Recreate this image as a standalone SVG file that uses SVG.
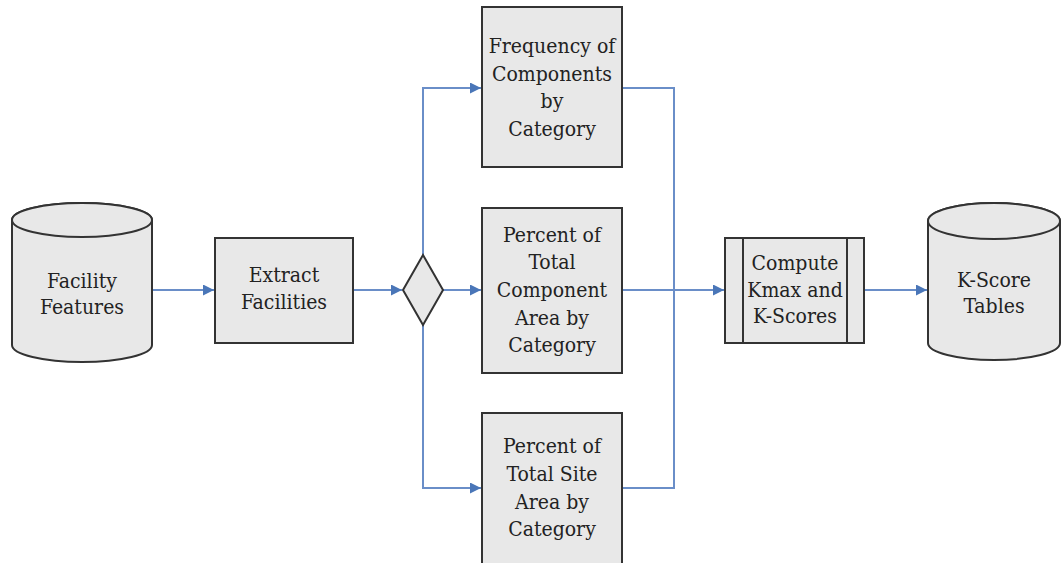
<svg xmlns="http://www.w3.org/2000/svg" width="1062" height="563" viewBox="0 0 1062 563">
<defs>
<style>
.n{fill:#e8e8e8;stroke:#333;stroke-width:2}
.l{fill:none;stroke:#6a8ec8;stroke-width:2}
.t{font-family:"DejaVu Serif Condensed","DejaVu Serif",serif;font-stretch:condensed;font-size:21px;fill:#222;text-anchor:middle}
</style>
<marker id="a" viewBox="0 0 10 10" refX="10" refY="5" markerWidth="5.5" markerHeight="5.5" orient="auto" markerUnits="strokeWidth">
<path d="M0,0 L10,5 L0,10 z" fill="#4a76b8"/>
</marker>
</defs>
<rect width="1062" height="563" fill="#fff"/>
<g id="connectors">
<path class="l" d="M152,290 H214" marker-end="url(#a)"/>
<path class="l" d="M353,290 H402" marker-end="url(#a)"/>
<path class="l" d="M443,290 H481" marker-end="url(#a)"/>
<path class="l" d="M423,255 V88 H481" marker-end="url(#a)"/>
<path class="l" d="M423,325 V488 H481" marker-end="url(#a)"/>
<path class="l" d="M622,88 H674 V488 H622"/>
<path class="l" d="M622,290 H674"/>
<path class="l" d="M674,290 H724" stroke-width="2.5" marker-end="url(#a)"/>
<path class="l" d="M864,290 H927" marker-end="url(#a)"/>
</g>
<g id="facility-features">
<path class="n" d="M12,220 V345 A70,17 0 0 0 152,345 V220 A70,17 0 0 0 12,220 Z"/>
<ellipse class="n" cx="82" cy="220" rx="70" ry="17"/>
<text class="t" x="82" y="288">Facility</text>
<text class="t" x="82" y="314">Features</text>
</g>
<g id="extract-facilities">
<rect class="n" x="215" y="238" width="138" height="105"/>
<text class="t" x="284" y="282">Extract</text>
<text class="t" x="284" y="309">Facilities</text>
</g>
<g id="decision">
<path class="n" d="M423,255 L443,290 L423,325 L403,290 Z"/>
</g>
<g id="frequency">
<rect class="n" x="482" y="7" width="140" height="160"/>
<text class="t" x="552" y="53">Frequency of</text>
<text class="t" x="552" y="81">Components</text>
<text class="t" x="552" y="108">by</text>
<text class="t" x="552" y="136">Category</text>
</g>
<g id="percent-component">
<rect class="n" x="482" y="208" width="140" height="165"/>
<text class="t" x="552" y="242">Percent of</text>
<text class="t" x="552" y="269">Total</text>
<text class="t" x="552" y="297">Component</text>
<text class="t" x="552" y="325">Area by</text>
<text class="t" x="552" y="352">Category</text>
</g>
<g id="percent-site">
<rect class="n" x="482" y="413" width="140" height="165"/>
<text class="t" x="552" y="453">Percent of</text>
<text class="t" x="552" y="481">Total Site</text>
<text class="t" x="552" y="509">Area by</text>
<text class="t" x="552" y="536">Category</text>
</g>
<g id="compute">
<rect class="n" x="725" y="238" width="139" height="105"/>
<line x1="743" y1="238" x2="743" y2="343" stroke="#333" stroke-width="2"/>
<line x1="847" y1="238" x2="847" y2="343" stroke="#333" stroke-width="2"/>
<text class="t" x="795" y="270">Compute</text>
<text class="t" x="795" y="297">Kmax and</text>
<text class="t" x="795" y="323">K-Scores</text>
</g>
<g id="k-score-tables">
<path class="n" d="M928,221 V343 A66,17 0 0 0 1060,343 V221 A66,18 0 0 0 928,221 Z"/>
<ellipse class="n" cx="994" cy="221" rx="66" ry="18"/>
<text class="t" x="994" y="287">K-Score</text>
<text class="t" x="994" y="313">Tables</text>
</g>
</svg>
